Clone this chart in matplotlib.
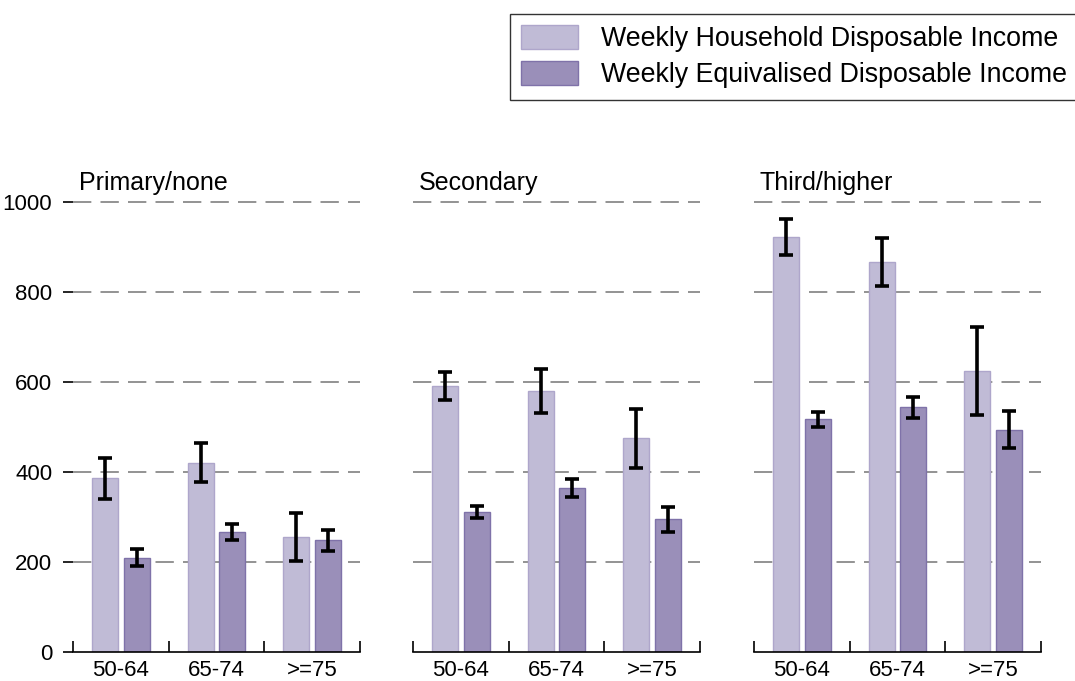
import numpy as np
import matplotlib
matplotlib.use('Agg')
import matplotlib.pyplot as plt

plt.rcParams['font.family'] = ['Liberation Sans', 'DejaVu Sans']

# Datos
panels = ['Primary/none', 'Secondary', 'Third/higher']
ages = ['50-64', '65-74', '>=75']

household = [[386, 421, 256],
             [591, 580, 475],
             [922, 866, 625]]
household_err = [[45, 43, 54],
                 [31, 49, 66],
                 [40, 53, 98]]

equivalised = [[210, 266, 248],
               [311, 365, 295],
               [517, 544, 494]]
equivalised_err = [[19, 18, 24],
                   [13, 20, 28],
                   [16, 23, 41]]

yticks = [0, 200, 400, 600, 800, 1000]

light = '#c0bbd6'
light_edge = '#aea6cb'
dark = '#9a8fb9'
dark_edge = '#7f72a9'

fig = plt.figure(figsize=(10.75, 6.81), dpi=100)

lefts = [73, 413, 754]
W, H = 1075, 681
width_px = 287
bottom_px = 652
height_px = 450

x = np.arange(3) + 0.5
bw = 0.27
off = 0.165

for i, name in enumerate(panels):
    ax = fig.add_axes([lefts[i] / W, 1 - bottom_px / H, width_px / W, height_px / H])
    ax.set_xlim(0, 3)
    ax.set_ylim(0, 1000)
    ax.set_axisbelow(True)

    for y in yticks[1:]:
        ax.axhline(y, color='#808080', lw=1.2, ls=(0, (11, 5.5)), zorder=0, clip_on=False)

    b1 = ax.bar(x - off, household[i], bw, color=light, edgecolor=light_edge, lw=1, zorder=2,
                label='Weekly Household Disposable Income')
    b2 = ax.bar(x + off, equivalised[i], bw, color=dark, edgecolor=dark_edge, lw=1, zorder=2,
                label='Weekly Equivalised Disposable Income')
    ax.errorbar(x - off, household[i], yerr=household_err[i], fmt='none', ecolor='black',
                elinewidth=2.6, capsize=4.7, capthick=2.6, zorder=3, clip_on=False)
    ax.errorbar(x + off, equivalised[i], yerr=equivalised_err[i], fmt='none', ecolor='black',
                elinewidth=2.6, capsize=4.7, capthick=2.6, zorder=3, clip_on=False)

    for s in ['top', 'right', 'left']:
        ax.spines[s].set_visible(False)
    ax.spines['bottom'].set_linewidth(1.2)

    ax.set_xticks(x)
    ax.set_xticklabels(ages, fontsize=16)
    ax.tick_params(axis='x', which='major', length=0, pad=6)
    ax.set_xticks([0, 1, 2, 3], minor=True)
    ax.tick_params(axis='x', which='minor', direction='in', length=8, width=1.2)

    if i == 0:
        ax.set_yticks(yticks)
        ax.set_yticklabels([str(v) for v in yticks], fontsize=16)
        ax.tick_params(axis='y', length=7, width=1.2, pad=8)
    else:
        ax.set_yticks([])

    ax.annotate(name, xy=(0, 1), xycoords='axes fraction', xytext=(4, 13.5),
                textcoords='offset points', va='center', ha='left', fontsize=18)

    if i == 0:
        handles = [b1, b2]

leg = fig.legend(handles=handles, loc='upper left', bbox_to_anchor=(510 / W, 1 - 14 / H),
                 fontsize=19.3, frameon=True, fancybox=False, edgecolor='black',
                 handlelength=2.1, handleheight=1.0, handletextpad=0.86,
                 labelspacing=0.33, borderpad=0.42, borderaxespad=0)
leg.get_frame().set_linewidth(1.0)

fig.savefig('out.png', dpi=100)
